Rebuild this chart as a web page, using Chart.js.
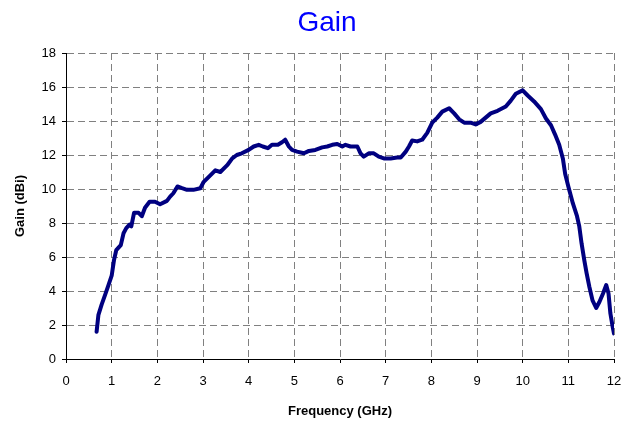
<!DOCTYPE html>
<html>
<head>
<meta charset="utf-8">
<title>Gain</title>
<script src="https://cdn.jsdelivr.net/npm/chart.js@4"></script>
<style>
    html, body { margin: 0; padding: 0; background: #fff; }
    #wrap { width: 629px; height: 423px; }
</style>
</head>
<body>
<div id="wrap"><canvas id="gainChart" width="629" height="423"></canvas></div>
<script>
const frequencyGHz = [
    0.67, 0.71, 0.78, 0.86, 0.93, 1.00, 1.05, 1.10, 1.20, 1.26,
    1.32, 1.39, 1.43, 1.49, 1.59, 1.66, 1.73, 1.83, 1.95, 2.06,
    2.21, 2.28, 2.35, 2.44, 2.54, 2.65, 2.79, 2.94, 3.01, 3.16,
    3.27, 3.38, 3.53, 3.64, 3.74, 3.85, 4.00, 4.11, 4.22, 4.31,
    4.42, 4.51, 4.64, 4.73, 4.80, 4.88, 4.95, 5.06, 5.21, 5.32,
    5.46, 5.61, 5.72, 5.83, 5.94, 6.05, 6.12, 6.23, 6.38, 6.45,
    6.52, 6.63, 6.74, 6.85, 6.96, 7.11, 7.25, 7.33, 7.44, 7.51,
    7.58, 7.69, 7.80, 7.91, 8.02, 8.13, 8.24, 8.39, 8.50, 8.61,
    8.72, 8.86, 8.97, 9.08, 9.19, 9.30, 9.45, 9.63, 9.74, 9.85,
    10.00, 10.11, 10.25, 10.40, 10.51, 10.62, 10.71, 10.80, 10.88, 10.93,
    11.00, 11.10, 11.19, 11.24, 11.29, 11.35, 11.40, 11.46, 11.53, 11.61,
    11.68, 11.76, 11.83, 11.88, 11.92, 11.97, 12.00
];
const gainDBi = [
    1.6, 2.6, 3.2, 3.8, 4.35, 4.9, 5.8, 6.4, 6.7, 7.4,
    7.7, 7.9, 7.8, 8.6, 8.6, 8.4, 8.9, 9.25, 9.25, 9.1,
    9.3, 9.55, 9.75, 10.15, 10.05, 9.95, 9.95, 10.04, 10.4, 10.8,
    11.1, 11.0, 11.4, 11.8, 12.0, 12.1, 12.3, 12.5, 12.6, 12.5,
    12.4, 12.6, 12.6, 12.75, 12.9, 12.5, 12.3, 12.2, 12.1, 12.24,
    12.3, 12.45, 12.5, 12.6, 12.65, 12.5, 12.6, 12.5, 12.5, 12.1,
    11.9, 12.1, 12.1, 11.9, 11.8, 11.8, 11.85, 11.85, 12.2, 12.5,
    12.85, 12.8, 12.9, 13.3, 13.9, 14.2, 14.55, 14.75, 14.45, 14.1,
    13.9, 13.9, 13.8, 13.95, 14.2, 14.45, 14.6, 14.85, 15.2, 15.6,
    15.8, 15.5, 15.15, 14.7, 14.15, 13.75, 13.2, 12.6, 11.8, 10.9,
    10.15, 9.15, 8.4, 7.8, 6.8, 5.8, 5.05, 4.25, 3.45, 3.0,
    3.35, 3.85, 4.35, 3.85, 2.7, 1.9, 1.5
];

const chartTitle = 'Gain';
const xAxisTitle = 'Frequency (GHz)';
const yAxisTitle = 'Gain (dBi)';
const xRange = [0, 12];
const yRange = [0, 18];

const fontFamily = "'Liberation Sans', Arial, sans-serif";

// Title drawn by a tiny plugin so it can sit where the original puts it
const titlePlugin = {
    id: 'gainTitle',
    afterDraw(chart) {
        const ctx = chart.ctx;
        ctx.save();
        ctx.font = '28px ' + fontFamily;
        ctx.fillStyle = '#0000ff';
        ctx.textAlign = 'center';
        ctx.textBaseline = 'middle';
        ctx.fillText(chartTitle, 327, 23);
        ctx.restore();
    }
};

const points = frequencyGHz.map((f, i) => ({ x: f, y: gainDBi[i] }));

new Chart(document.getElementById('gainChart'), {
    type: 'line',
    data: {
        datasets: [{
            label: 'Gain',
            data: points,
            borderColor: '#000080',
            borderWidth: 4,
            borderJoinStyle: 'round',
            borderCapStyle: 'round',
            pointRadius: 0,
            tension: 0,
            fill: false
        }]
    },
    options: {
        responsive: false,
        animation: false,
        layout: { padding: { left: 6, right: 15, top: 53, bottom: 0 } },
        plugins: {
            legend: { display: false },
            tooltip: { enabled: false },
            title: { display: false }
        },
        scales: {
            x: {
                type: 'linear',
                min: xRange[0],
                max: xRange[1],
                afterFit: scale => {
                    scale.height = 64;
                    scale.paddingRight = 0;
                },
                ticks: {
                    stepSize: 1,
                    padding: 11,
                    color: '#000',
                    font: { family: fontFamily, size: 13 }
                },
                grid: {
                    color: '#808080',
                    tickColor: '#000',
                    tickLength: 4
                },
                border: { color: '#000', width: 1, dash: [7, 4] },
                title: {
                    display: true,
                    text: xAxisTitle,
                    color: '#000',
                    font: { family: fontFamily, size: 13, weight: 'bold' },
                    padding: { top: 0, bottom: 4 }
                }
            },
            y: {
                min: yRange[0],
                max: yRange[1],
                afterFit: scale => { scale.width = 60; },
                ticks: {
                    stepSize: 2,
                    padding: 6,
                    color: '#000',
                    font: { family: fontFamily, size: 13 }
                },
                grid: {
                    color: '#808080',
                    tickColor: '#000',
                    tickLength: 4
                },
                border: { color: '#000', width: 1, dash: [7, 4] },
                title: {
                    display: true,
                    text: yAxisTitle,
                    color: '#000',
                    font: { family: fontFamily, size: 13, weight: 'bold' },
                    padding: { top: 7, bottom: 0 }
                }
            }
        }
    },
    plugins: [titlePlugin]
});
</script>
</body>
</html>
